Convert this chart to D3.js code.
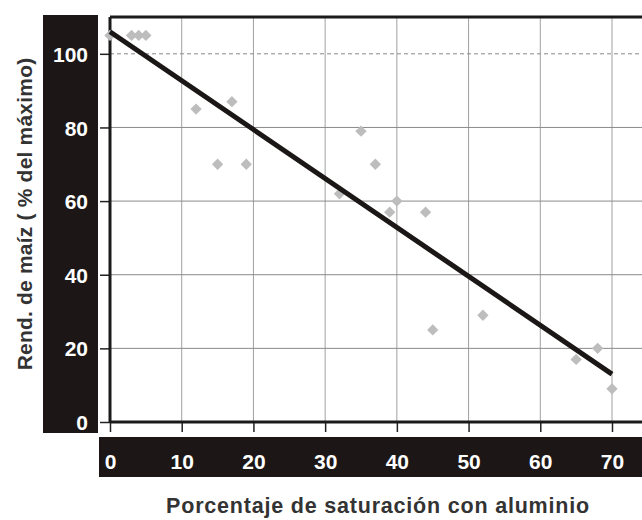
<!DOCTYPE html>
<html>
<head>
<meta charset="utf-8">
<script src="https://cdn.jsdelivr.net/npm/d3@7/dist/d3.min.js"></script>
<style>
  body { margin: 0; background: #fff; }
  svg { display: block; font-family: "Liberation Sans", Arial, sans-serif; }
</style>
</head>
<body>
<div id="chart"></div>
<script>
// aluminium saturation (%) vs. maize yield (% of max)
const saturation = [0, 3, 4, 5, 12, 17, 15, 19, 35, 37, 32, 39, 40, 44, 45, 52, 65, 68, 70];
const yieldPct   = [105, 105, 105, 105, 85, 87, 70, 70, 79, 70, 62, 57, 60, 57, 25, 29, 17, 20, 9];
const fitLine = [[0, 106], [70, 13]];
const xTicks = [0, 10, 20, 30, 40, 50, 60, 70];
const yTicks = [0, 20, 40, 60, 80, 100];

const W = 642, H = 520;
const m = { left: 110, top: 17, bottom: 422 };

const svg = d3.select("#chart").append("svg")
  .attr("width", W).attr("height", H);

const x = d3.scaleLinear().domain([0, 70]).range([m.left, 612]);
const y = d3.scaleLinear().domain([0, 110]).range([m.bottom, m.top]);

const band = "#1c1716";

// black label bands
svg.append("rect").attr("x", 43).attr("y", 15).attr("width", 55).attr("height", 418).attr("fill", band);
svg.append("rect").attr("x", 99).attr("y", 437).attr("width", W - 99).attr("height", 40).attr("fill", band);

// grid
const grid = svg.append("g");
grid.selectAll("line.v").data(xTicks.slice(1)).enter().append("line")
  .attr("x1", d => x(d)).attr("x2", d => x(d))
  .attr("y1", y(110)).attr("y2", y(0))
  .attr("stroke", "#a0a0a0").attr("stroke-width", 1);
grid.selectAll("line.h").data(yTicks.slice(1)).enter().append("line")
  .attr("x1", m.left).attr("x2", W)
  .attr("y1", d => y(d)).attr("y2", d => y(d))
  .attr("stroke", "#8a8a8a").attr("stroke-width", 1)
  .attr("stroke-dasharray", d => d === 100 ? "4,3" : null);

// axes
const yAxis = svg.append("g").attr("transform", `translate(${m.left},0)`)
  .call(d3.axisLeft(y).tickValues(yTicks).tickSize(10).tickPadding(12));
yAxis.select(".domain").remove();
yAxis.selectAll(".tick line").attr("stroke", "#222").attr("stroke-width", 1.5);
yAxis.selectAll(".tick text").attr("fill", "#fff").attr("font-size", 21)
  .attr("font-weight", "bold").attr("dy", "0.36em");

const xAxis = svg.append("g").attr("transform", `translate(0,${y(0)})`)
  .call(d3.axisBottom(x).tickValues(xTicks).tickSize(10).tickPadding(22));
xAxis.select(".domain").remove();
xAxis.selectAll(".tick line").attr("stroke", "#222").attr("stroke-width", 1.5);
xAxis.selectAll(".tick text").attr("fill", "#fff").attr("font-size", 21)
  .attr("font-weight", "bold");

// frame lines
svg.append("line").attr("x1", m.left).attr("x2", m.left).attr("y1", y(110)).attr("y2", y(0))
  .attr("stroke", "#1a1a1a").attr("stroke-width", 3);
svg.append("line").attr("x1", m.left).attr("x2", W).attr("y1", y(0)).attr("y2", y(0))
  .attr("stroke", "#1a1a1a").attr("stroke-width", 3);
svg.append("line").attr("x1", m.left).attr("x2", W).attr("y1", y(110)).attr("y2", y(110))
  .attr("stroke", "#1a1a1a").attr("stroke-width", 3);

// points (square diamonds)
const diamond = d3.symbol().type(d3.symbolSquare).size(64);
svg.append("g").selectAll("path").data(saturation).enter().append("path")
  .attr("d", diamond)
  .attr("transform", (d, i) => `translate(${x(d)},${y(yieldPct[i])}) rotate(45)`)
  .attr("fill", "#bdbdbd");

// regression line
svg.append("path").datum(fitLine)
  .attr("d", d3.line().x(d => x(d[0])).y(d => y(d[1])))
  .attr("stroke", "#1a1716").attr("stroke-width", 5).attr("fill", "none");

// titles
svg.append("text").attr("x", 378).attr("y", 513).attr("text-anchor", "middle")
  .attr("font-size", 21.5).attr("font-weight", "bold").attr("fill", "#333")
  .attr("letter-spacing", 0.8)
  .text("Porcentaje de saturación con aluminio");
svg.append("text").attr("transform", "translate(32,214) rotate(-90)")
  .attr("text-anchor", "middle").attr("font-size", 21).attr("font-weight", "bold")
  .attr("fill", "#333").attr("letter-spacing", 0.2)
  .text("Rend. de maíz ( % del máximo)");
</script>
</body>
</html>
